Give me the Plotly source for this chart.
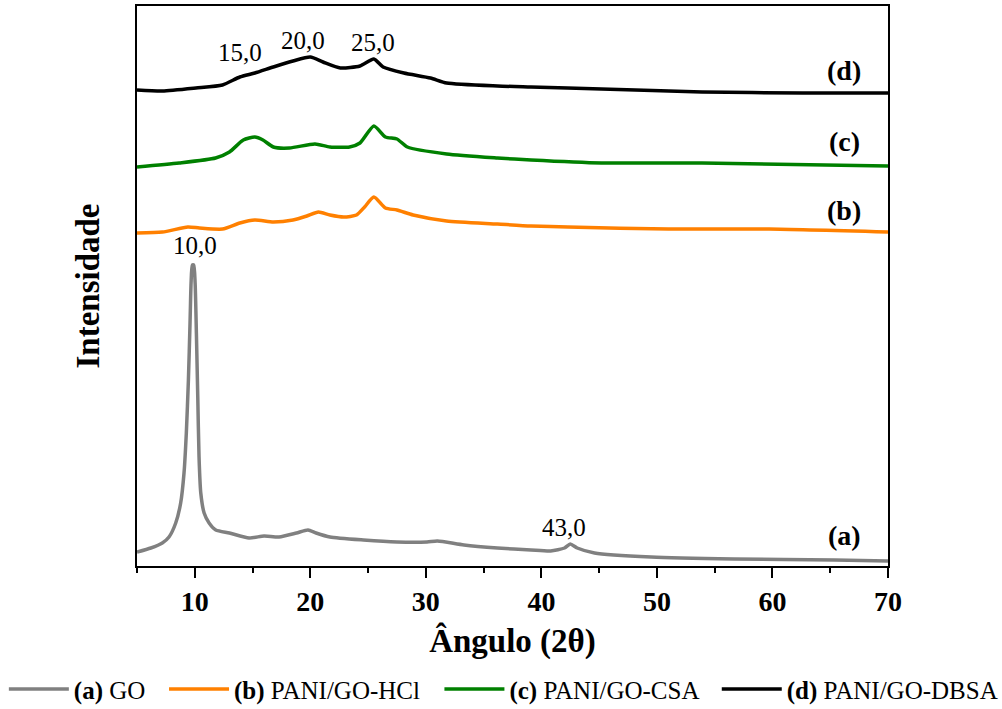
import plotly.graph_objects as go

# (a) GO
x_a = [5.0, 6.2, 7.19, 7.77, 8.35, 8.78, 9.07, 9.27, 9.45, 9.59, 9.68, 9.79, 9.91, 10.03,
       10.14, 10.26, 10.37, 10.52, 10.81, 11.24, 11.82, 13.0, 14.7, 16.0,
       17.3, 18.8, 19.8, 20.5, 21.7, 24.6, 27.5, 30.1, 31.0, 33.3, 36.2, 39.1, 40.8, 42.0,
       42.5, 43.1, 44.6, 49.5, 56.7, 65.4, 70.0]
y_a = [14, 18, 23, 29, 43, 63, 93, 133, 186, 243, 283, 301, 301, 283,
       233, 169, 109, 73, 53, 43, 36, 33, 28, 30,
       29, 33, 36, 33, 29, 26, 24, 24, 25, 21, 18, 16, 15, 18,
       22, 18, 13, 9, 7, 6, 5]

# (b) PANI/GO-HCl
x_b = [5.0, 7.2, 9.4, 10.4, 12.4, 13.9, 15.2, 16.8, 18.5, 19.7, 20.7, 21.7, 22.9, 24.0,
       24.7, 25.5, 26.5, 27.5, 28.9, 31.8, 36.2, 39.1, 42.3, 51.0, 59.7, 70.0]
y_b = [333, 334, 339, 338, 337, 343, 346, 344, 346, 350, 354, 351, 349, 351,
       359, 369, 358, 356, 351, 345, 342, 340, 339, 337, 337, 334]

# (c) PANI/GO-CSA
x_c = [5.0, 8.65, 11.8, 13.0, 14.2, 15.2, 15.9, 16.8, 18.2, 20.4, 21.7, 23.4, 24.3, 25.5,
       26.5, 27.5, 28.4, 31.8, 36.2, 39.1, 45.2, 53.9, 70.0]
y_c = [399, 403, 408, 414, 426, 429, 426, 419, 418, 422, 419, 419, 423, 440,
       429, 427, 419, 412, 408, 406, 403, 403, 400]

# (d) PANI/GO-DBSA
x_d = [5.0, 7.2, 10.1, 12.4, 13.9, 15.2, 16.8, 18.5, 20.0, 21.1, 22.6, 24.3, 25.5, 26.3,
       28.1, 30.4, 31.8, 36.2, 39.1, 45.2, 53.9, 62.6, 70.0]
y_d = [476, 475, 478, 481, 489, 493, 499, 505, 509, 504, 498, 500, 507, 499,
       493, 488, 483, 480, 479, 477, 474, 473, 473]

names = ["<b>(a)</b> GO", "<b>(b)</b> PANI/GO-HCl", "<b>(c)</b> PANI/GO-CSA", "<b>(d)</b> PANI/GO-DBSA"]
colors = ["#808080", "#ff8000", "#008000", "#000000"]
legend_ids = ["legend", "legend2", "legend3", "legend4"]
legend_x = [-0.1773, 0.036, 0.4027, 0.772]

peak_text = ["10,0", "15,0", "20,0", "25,0", "43,0"]
peak_x = [10.03, 13.93, 19.39, 25.45, 42.0]
peak_y = [321, 514, 526, 524, 39]

curve_text = ["(d)", "(c)", "(b)", "(a)"]
curve_y = [496, 425, 356, 31]

FF = "Liberation Serif"

fig = go.Figure()
for name, xs, ys, col, lg in zip(names, [x_a, x_b, x_c, x_d], [y_a, y_b, y_c, y_d], colors, legend_ids):
    fig.add_trace(go.Scatter(x=xs, y=ys, mode="lines", name=name, legend=lg,
                             line=dict(color=col, width=3.5, shape="spline", smoothing=0.6)))

for txt, xv, yv in zip(peak_text, peak_x, peak_y):
    fig.add_annotation(x=xv, y=yv, text=txt, showarrow=False, yanchor="middle",
                       font=dict(family=FF, size=25, color="black"))
for txt, yv in zip(curve_text, curve_y):
    fig.add_annotation(x=66.2, y=yv, text=txt, showarrow=False, yanchor="middle",
                       font=dict(family=FF, size=28, color="black", weight="bold"))

fig.update_layout(
    width=1002, height=709,
    margin=dict(l=137, r=114, t=6, b=143, autoexpand=False),
    plot_bgcolor="white", paper_bgcolor="white",
    font=dict(family=FF, color="black"),
    showlegend=True,
)
for lg, lx in zip(legend_ids, legend_x):
    fig.update_layout({lg: dict(orientation="h", x=lx, xanchor="left", y=-0.179, yanchor="top",
                                font=dict(family=FF, size=25, color="black"),
                                itemwidth=60, bgcolor="rgba(0,0,0,0)")})

fig.update_xaxes(
    range=[5, 70], tickmode="array", tickvals=[10, 20, 30, 40, 50, 60, 70],
    ticks="outside", ticklen=10, tickwidth=1.5, tickcolor="black",
    minor=dict(tickvals=[5, 15, 25, 35, 45, 55, 65], ticks="outside", ticklen=5, tickwidth=1.5, tickcolor="black"),
    showline=True, linecolor="black", linewidth=1.5, mirror=True,
    showgrid=False, zeroline=False,
    tickfont=dict(family=FF, size=28, color="black", weight="bold"),
    title=dict(text="Ângulo (2θ)", font=dict(family=FF, size=33, color="black", weight="bold"), standoff=13),
)
fig.update_yaxes(
    range=[0, 560], showticklabels=False, ticks="",
    showline=True, linecolor="black", linewidth=1.5, mirror=True,
    showgrid=False, zeroline=False,
    title=dict(text="Intensidade", font=dict(family=FF, size=33, color="black", weight="bold"), standoff=26),
)

fig.write_html("out.html")
